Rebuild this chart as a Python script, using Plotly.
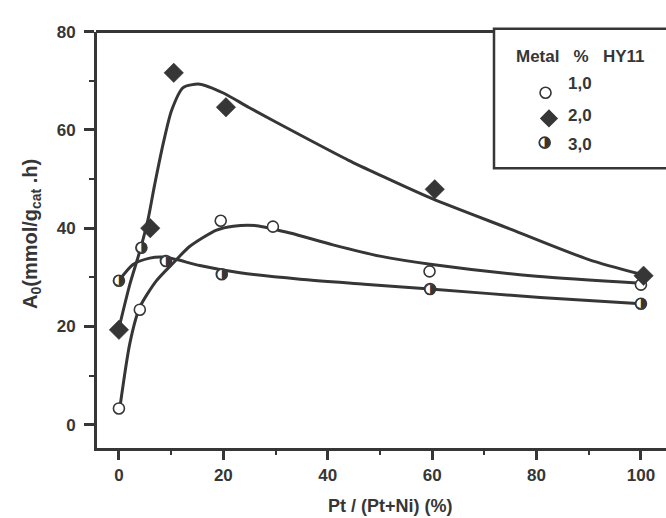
import plotly.graph_objects as go

W, H = 666, 518

# ---------------- data ----------------
# Metal % HY11 = 1,0 (open circles)
s1_x = [0, 4, 19.5, 29.5, 59.5, 100]
s1_y = [3.3, 23.4, 41.5, 40.3, 31.2, 28.5]
# Metal % HY11 = 2,0 (filled diamonds)
s2_x = [0, 6, 10.5, 20.5, 60.5, 100.5]
s2_y = [19.3, 40.0, 71.6, 64.6, 47.9, 30.3]
# Metal % HY11 = 3,0 (half-filled circles)
s3_x = [0, 4.3, 9, 19.7, 59.6, 100]
s3_y = [29.3, 36.0, 33.3, 30.6, 27.6, 24.6]

# fitted curves as traced in the reference
c1_x = [0.2, 2.1, 4.0, 7.2, 10.4, 13.6, 18.7, 21.9, 26.4, 32.8, 41, 50, 60, 80, 100]
c1_y = [3.6, 16.6, 23.9, 29.3, 32.9, 36.3, 39.6, 40.4, 40.5, 39.0, 36.6, 34.3, 32.6, 30.2, 28.8]
c2_x = [0.2, 2.1, 4.0, 5.6, 6.8, 8.5, 10.1, 12.3, 15.5, 20, 25, 35, 44, 50, 60, 75, 90, 100]
c2_y = [20.5, 28.6, 35.3, 41.9, 48.6, 57.3, 64.0, 68.6, 69.3, 67.5, 64.5, 58.8, 53.8, 50.8, 46.0, 39.8, 33.6, 30.6]
c3_x = [0, 2.7, 5.9, 8.5, 11, 15.5, 23.2, 34.7, 47, 59.6, 80.7, 100]
c3_y = [29.3, 32.6, 33.9, 34.1, 33.6, 32.4, 30.9, 29.6, 28.6, 27.6, 25.9, 24.6]

x_ticks = [0, 20, 40, 60, 80, 100]
y_ticks = [0, 20, 40, 60, 80]
legend_title = "Metal   %   HY11"
legend_labels = ["1,0", "2,0", "3,0"]
x_title = "Pt / (Pt+Ni) (%)"
y_title = "A<sub>0</sub>(mmol/g<sub>cat</sub> .h)"

INK = "#363636"
FONT = "Liberation Sans Narrow, Arial Narrow, Liberation Sans, Arial, sans-serif"

def tfont(size):
    return dict(family=FONT, size=size, color=INK, weight="bold")

fig = go.Figure()

for cx, cy in [(c1_x, c1_y), (c2_x, c2_y), (c3_x, c3_y)]:
    fig.add_trace(go.Scatter(x=cx, y=cy, mode="lines",
                             line=dict(color=INK, width=3, shape="spline", smoothing=0.7),
                             hoverinfo="skip", showlegend=False))

fig.add_trace(go.Scatter(x=s1_x, y=s1_y, mode="markers",
                         marker=dict(symbol="circle", size=11, color="white",
                                     line=dict(color=INK, width=1.6)),
                         showlegend=False))
fig.add_trace(go.Scatter(x=s2_x, y=s2_y, mode="markers",
                         marker=dict(symbol="diamond", size=15, color=INK,
                                     line=dict(color=INK, width=0.5)),
                         showlegend=False))
fig.add_trace(go.Scatter(x=s3_x, y=s3_y, mode="markers",
                         marker=dict(symbol="circle", size=11, color="white",
                                     line=dict(color=INK, width=1.6)),
                         showlegend=False))
fig.add_trace(go.Scatter(x=s3_x, y=s3_y, mode="text", text=["\u25D1"] * len(s3_x),
                         textposition="middle center",
                         textfont=dict(family="DejaVu Sans", size=14, color=INK),
                         showlegend=False))

# legend markers on an overlay axis in pixel coordinates
leg_px_x = [525, 529, 524]
leg_px_y = [76, 108, 138]
fig.add_trace(go.Scatter(x=[leg_px_x[0]], y=[leg_px_y[0]], xaxis="x2", yaxis="y2", mode="markers",
                         marker=dict(symbol="circle", size=11, color="white",
                                     line=dict(color=INK, width=1.6)), showlegend=False))
fig.add_trace(go.Scatter(x=[leg_px_x[1]], y=[leg_px_y[1]], xaxis="x2", yaxis="y2", mode="markers",
                         marker=dict(symbol="diamond", size=14, color=INK), showlegend=False))
fig.add_trace(go.Scatter(x=[leg_px_x[2]], y=[leg_px_y[2]], xaxis="x2", yaxis="y2", mode="markers",
                         marker=dict(symbol="circle", size=11, color="white",
                                     line=dict(color=INK, width=1.6)), showlegend=False))
fig.add_trace(go.Scatter(x=[leg_px_x[2]], y=[leg_px_y[2]], xaxis="x2", yaxis="y2", mode="text",
                         text=["\u25D1"], textposition="middle center",
                         textfont=dict(family="DejaVu Sans", size=14, color=INK), showlegend=False))

ann = []
for lab, py in zip(legend_labels, leg_px_y):
    ann.append(dict(x=566 / W, y=1 - py / H, xref="paper", yref="paper", text=lab,
                    showarrow=False, xanchor="left", yanchor="middle", font=tfont(17)))
ann.append(dict(x=580 / W, y=1 - 48 / H, xref="paper", yref="paper", text=legend_title,
                showarrow=False, xanchor="center", yanchor="middle", font=tfont(17)))
ann.append(dict(x=390 / W, y=1 - 506 / H, xref="paper", yref="paper", text=x_title,
                showarrow=False, xanchor="center", yanchor="middle", font=tfont(18)))
ann.append(dict(x=31 / W, y=1 - 229 / H, xref="paper", yref="paper", text=y_title,
                showarrow=False, xanchor="center", yanchor="middle", textangle=-90,
                font=tfont(20)))

shapes = [
    # top frame line of the plot box
    dict(type="line", xref="paper", yref="paper", x0=96 / W, x1=494 / W,
         y0=1 - 23 / H, y1=1 - 23 / H, line=dict(color=INK, width=3)),
    # legend box
    dict(type="rect", xref="paper", yref="paper", x0=494 / W, x1=1.05,
         y0=1 - 162 / H, y1=1 - 20 / H, fillcolor="white",
         line=dict(color=INK, width=2.5), layer="below"),
]

fig.update_layout(
    width=W, height=H, margin=dict(l=0, r=0, t=0, b=0),
    paper_bgcolor="white", plot_bgcolor="rgba(0,0,0,0)",
    font=dict(family=FONT, color=INK),
    annotations=ann, shapes=shapes, showlegend=False,
    xaxis=dict(domain=[97 / W, 1], range=[-4.2, 104.8], tickvals=x_ticks,
               showgrid=False, zeroline=False, showline=True, linecolor=INK, linewidth=3,
               ticks="outside", ticklen=9, tickwidth=2.5, tickcolor=INK,
               tickfont=tfont(17),
               minor=dict(dtick=10, ticks="outside", ticklen=4, tickwidth=2, tickcolor=INK)),
    yaxis=dict(domain=[71 / H, 1 - 23 / H], range=[-4.8, 80], tickvals=y_ticks,
               showgrid=False, zeroline=False, showline=True, linecolor=INK, linewidth=3,
               ticks="outside", ticklen=10, tickwidth=2.5, tickcolor=INK,
               ticklabelstandoff=5,
               tickfont=tfont(17),
               minor=dict(dtick=10, ticks="outside", ticklen=5, tickwidth=2, tickcolor=INK)),
    xaxis2=dict(domain=[0, 1], range=[0, W], visible=False, overlaying="x", anchor="y2",
                fixedrange=True),
    yaxis2=dict(domain=[0, 1], range=[H, 0], visible=False, overlaying="y", anchor="x2",
                fixedrange=True),
)

fig.write_html("out.html", config={"displayModeBar": False},
               post_script="document.body.style.margin='0';document.body.style.overflow='hidden';")
